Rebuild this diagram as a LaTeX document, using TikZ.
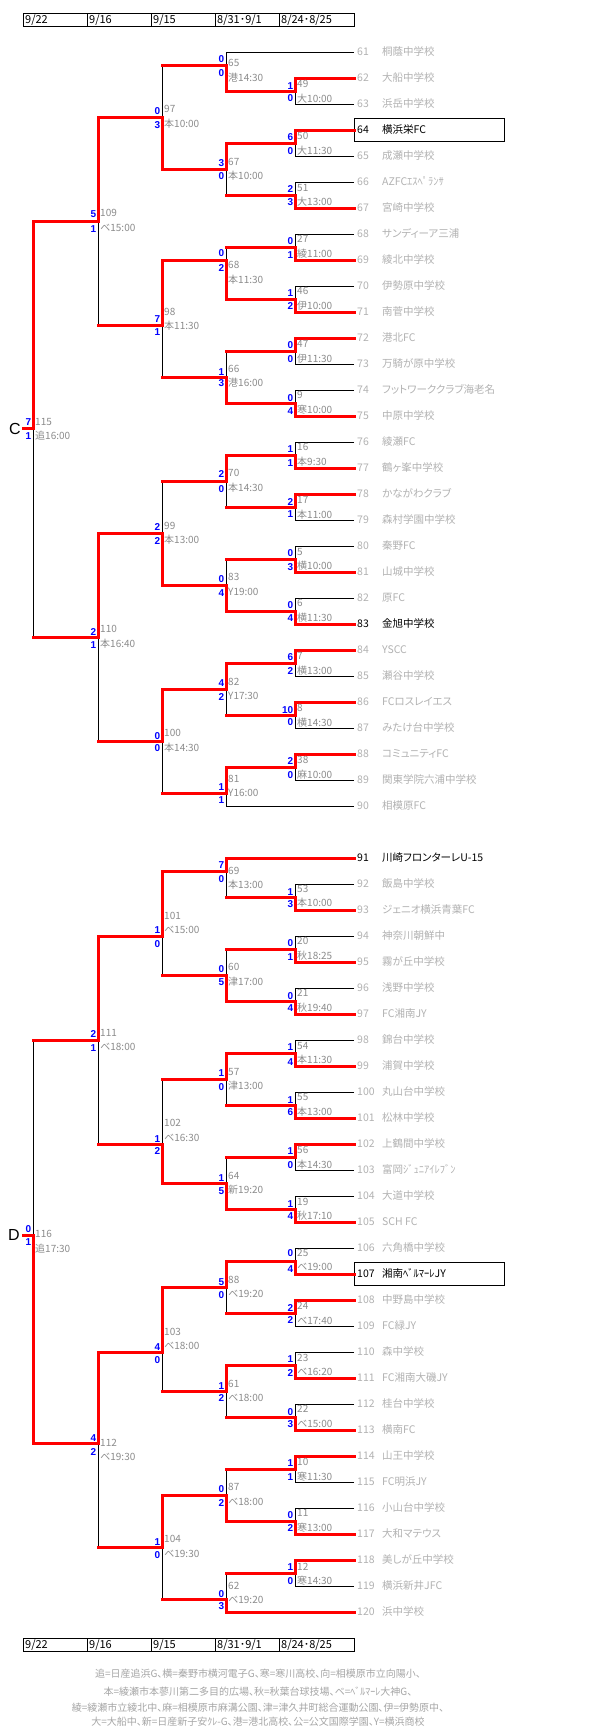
\documentclass[tikz,border=0pt]{standalone}
\usepackage{fontspec}
\setmainfont{Noto Sans CJK JP}[RawFeature={+palt}]
\newfontfamily\scorefont{Liberation Sans}
\newfontfamily\letterfont{Liberation Sans}
\pgfdeclarelayer{bg}
\pgfsetlayers{bg,main}
\definecolor{myred}{HTML}{FF0000}
\definecolor{scoreblue}{HTML}{0000FF}
\definecolor{tg}{HTML}{B2B2B2}
\definecolor{labgray}{HTML}{8C8C8C}
\definecolor{footgray}{HTML}{A6A6A6}
% match, loser is a team
\newcommand\Mt[5]{%
  \coordinate (m#1) at (#2,#3);
  \begin{pgfonlayer}{bg}\draw[loseln] (#5) -- (#5 -| m#1) -- (m#1);\end{pgfonlayer}
  \draw[winln] (#4) -- (#4 -| m#1) -- (m#1);}
% match, loser is a match
\newcommand\Mm[5]{%
  \coordinate (m#1) at (#2,#3);
  \begin{pgfonlayer}{bg}\draw[loseln] (#5 -| m#1) -- (m#1);\end{pgfonlayer}
  \draw[winln] (#5) -- (#5 -| m#1);
  \draw[winln] (#4) -- (#4 -| m#1) -- (m#1);}
% labels
\newcommand\Lb[8]{%
  \node[lab] (n#1) at (m#1 |- 0,#2) {#1};
  \node[lab] (v#1) at (m#1 |- 0,#3) {#4};
  \node[scr] (a#1) at (m#1 |- 0,#5) {#6};
  \node[scr] (b#1) at (m#1 |- 0,#7) {#8};}
\begin{document}
\begin{tikzpicture}[x=1pt,y=-1pt,
  winln/.style={line width=3pt,draw=myred,line cap=rect,line join=miter},
  loseln/.style={line width=1pt,draw=black},
  lab/.style={anchor=base west,inner sep=0pt,xshift=2pt,yshift=-3.6pt,text=labgray,font=\fontsize{10}{10}\selectfont},
  scr/.style={anchor=base east,inner sep=0pt,xshift=-1.5pt,yshift=-3.6pt,text=scoreblue,font=\scorefont\bfseries\fontsize{10}{10}\selectfont},
  tnum/.style={anchor=base west,inner sep=0pt,yshift=-3.8pt,font=\fontsize{10.5}{10.5}\selectfont},
  hdr/.style={anchor=base west,inner sep=0pt,yshift=-3.9pt,font=\fontsize{11}{11}\selectfont},
  foot/.style={anchor=base,inner sep=0pt,yshift=-3.6pt,text=footgray,font=\fontsize{10}{10}\selectfont},
  grp/.style={anchor=center,inner sep=0pt,font=\letterfont\fontsize{16}{16}\selectfont}]
\begin{pgfonlayer}{bg}
\fill[white] (0,0) rectangle (605,1733);
\end{pgfonlayer}
\path[use as bounding box] (0,0) rectangle (605,1733);

% ---------- headers ----------
\draw[line width=1pt] (23,13.3) rectangle (354,26);
\foreach \xx in {87,151,215,279} \draw[line width=1pt] (\xx,13.3) -- (\xx,26);
\node[hdr] (h1) at (25,19.7) {9/22};
\node[hdr] (h2) at (89,19.7) {9/16};
\node[hdr] (h3) at (153,19.7) {9/15};
\node[hdr] (h4) at (217,19.7) {8/31･9/1};
\node[hdr] (h5) at (281,19.7) {8/24･8/25};
\draw[line width=1pt] (23,1638.3) rectangle (354,1651.7);
\foreach \xx in {87,151,215,279} \draw[line width=1pt] (\xx,1638.3) -- (\xx,1651.7);
\node[hdr] (g1) at (25,1645) {9/22};
\node[hdr] (g2) at (89,1645) {9/16};
\node[hdr] (g3) at (153,1645) {9/15};
\node[hdr] (g4) at (217,1645) {8/31･9/1};
\node[hdr] (g5) at (281,1645) {8/24･8/25};

% ---------- teams ----------
\foreach \n/\s/\c in {61/桐蔭中学校/tg, 62/大船中学校/tg, 63/浜岳中学校/tg, 64/横浜栄FC/black,
  65/成瀬中学校/tg, 66/AZFCｴｽﾍﾟﾗﾝｻ/tg, 67/宮崎中学校/tg, 68/サンディーア三浦/tg,
  69/綾北中学校/tg, 70/伊勢原中学校/tg, 71/南菅中学校/tg, 72/港北FC/tg,
  73/万騎が原中学校/tg, 74/フットワーククラブ海老名/tg, 75/中原中学校/tg, 76/綾瀬FC/tg,
  77/鶴ヶ峯中学校/tg, 78/かながわクラブ/tg, 79/森村学園中学校/tg, 80/秦野FC/tg,
  81/山城中学校/tg, 82/原FC/tg, 83/金旭中学校/black, 84/YSCC/tg,
  85/瀬谷中学校/tg, 86/FCロスレイエス/tg, 87/みたけ台中学校/tg, 88/コミュニティFC/tg,
  89/関東学院六浦中学校/tg, 90/相模原FC/tg} {
  \coordinate (t\n) at (354,{52+26*(\n-61)});
  \node[tnum,text=\c] (k\n) at (357,{52+26*(\n-61)}) {\n};
  \node[tnum,text=\c] (s\n) at (382,{52+26*(\n-61)}) {\s};
}
\foreach \n/\s/\c in {91/川崎フロンターレU-15/black, 92/飯島中学校/tg, 93/ジェニオ横浜青葉FC/tg,
  94/神奈川朝鮮中/tg, 95/霧が丘中学校/tg, 96/浅野中学校/tg, 97/FC湘南JY/tg,
  98/錦台中学校/tg, 99/浦賀中学校/tg, 100/丸山台中学校/tg, 101/松林中学校/tg,
  102/上鶴間中学校/tg, 103/富岡ｼﾞｭﾆｱｲﾚﾌﾞﾝ/tg, 104/大道中学校/tg, 105/SCH FC/tg,
  106/六角橋中学校/tg, 107/湘南ﾍﾞﾙﾏｰﾚJY/black, 108/中野島中学校/tg, 109/FC緑JY/tg,
  110/森中学校/tg, 111/FC湘南大磯JY/tg, 112/桂台中学校/tg, 113/横南FC/tg,
  114/山王中学校/tg, 115/FC明浜JY/tg, 116/小山台中学校/tg, 117/大和マテウス/tg,
  118/美しが丘中学校/tg, 119/横浜新井JFC/tg, 120/浜中学校/tg} {
  \coordinate (t\n) at (354,{858+26*(\n-91)});
  \node[tnum,text=\c] (k\n) at (357,{858+26*(\n-91)}) {\n};
  \node[tnum,text=\c] (s\n) at (382,{858+26*(\n-91)}) {\s};
}
\draw[line width=1pt] (354,118.3) rectangle (504,141);
\draw[line width=1pt] (354,1262.7) rectangle (504,1285);

% ---------- block C ----------
\Mt{49}{295}{91}{t62}{t63}
\Mt{50}{295}{143}{t64}{t65}
\Mt{51}{295}{195}{t67}{t66}
\Mt{27}{295}{247}{t69}{t68}
\Mt{46}{295}{299}{t71}{t70}
\Mt{47}{295}{351}{t72}{t73}
\Mt{9}{295}{403}{t75}{t74}
\Mt{16}{295}{455}{t77}{t76}
\Mt{17}{295}{507}{t78}{t79}
\Mt{5}{295}{559}{t81}{t80}
\Mt{6}{295}{611}{t83}{t82}
\Mt{7}{295}{663}{t84}{t85}
\Mt{8}{295}{715}{t86}{t87}
\Mt{38}{295}{767}{t88}{t89}
\Mt{65}{226}{65}{m49}{t61}
\Mm{67}{226}{169}{m50}{m51}
\Mm{68}{226}{260}{m46}{m27}
\Mm{66}{226}{377}{m9}{m47}
\Mm{70}{226}{481}{m16}{m17}
\Mm{83}{226}{585}{m6}{m5}
\Mm{82}{226}{689}{m7}{m8}
\Mt{81}{226}{793}{m38}{t90}
\Mm{97}{162}{117}{m67}{m65}
\Mm{98}{162}{325}{m68}{m66}
\Mm{99}{162}{533}{m83}{m70}
\Mm{100}{162}{741}{m82}{m81}
\Mm{109}{98}{221}{m97}{m98}
\Mm{110}{98}{637}{m99}{m100}
\Mm{115}{33}{428}{m109}{m110}
\coordinate (cC) at (23,428);
\draw[winln] (m115) -- (cC);
\node[grp] (lC) at (15,429) {C};

% ---------- block D ----------
\Mt{53}{295}{897}{t93}{t92}
\Mt{20}{295}{949}{t95}{t94}
\Mt{21}{295}{1001}{t97}{t96}
\Mt{54}{295}{1053}{t99}{t98}
\Mt{55}{295}{1105}{t101}{t100}
\Mt{56}{295}{1157}{t102}{t103}
\Mt{19}{295}{1209}{t105}{t104}
\Mt{25}{295}{1261}{t107}{t106}
\Mt{24}{295}{1313}{t108}{t109}
\Mt{23}{295}{1365}{t111}{t110}
\Mt{22}{295}{1417}{t113}{t112}
\Mt{10}{295}{1469}{t114}{t115}
\Mt{11}{295}{1521}{t117}{t116}
\Mt{12}{295}{1573}{t118}{t119}
\Mm{69}{226}{871}{t91}{m53}
\Mm{60}{226}{975}{m21}{m20}
\Mm{57}{226}{1079}{m54}{m55}
\Mm{64}{226}{1183}{m19}{m56}
\Mm{88}{226}{1287}{m25}{m24}
\Mm{61}{226}{1391}{m23}{m22}
\Mm{87}{226}{1495}{m11}{m10}
\Mm{62}{226}{1599}{t120}{m12}
\Mm{101}{162}{936}{m69}{m60}
\Mm{102}{162}{1144}{m64}{m57}
\Mm{103}{162}{1352}{m88}{m61}
\Mm{104}{162}{1547}{m87}{m62}
\Mm{111}{98}{1040}{m101}{m102}
\Mm{112}{98}{1443}{m103}{m104}
\Mm{116}{33}{1235}{m112}{m111}
\coordinate (cD) at (23,1235);
\draw[winln] (m116) -- (cD);
\node[grp] (lD) at (14,1235) {D};

% ---------- labels C ----------
\Lb{49}{84.3}{99}{大10:00}{86}{1}{98.3}{0}
\Lb{50}{136}{151}{大11:30}{136.7}{6}{151}{0}
\Lb{51}{187.7}{202}{大13:00}{189}{2}{201.7}{3}
\Lb{27}{239.3}{254.3}{綾11:00}{241}{0}{255}{1}
\Lb{46}{291}{306}{伊10:00}{293}{1}{306}{2}
\Lb{47}{344}{359}{伊11:30}{345}{0}{359}{0}
\Lb{9}{395}{410}{寒10:00}{398}{0}{411}{4}
\Lb{16}{446.7}{461.7}{本9:30}{449}{1}{462.7}{1}
\Lb{17}{500}{515}{本11:00}{501.7}{2}{514}{1}
\Lb{5}{551.7}{565.7}{横10:00}{552.7}{0}{566.7}{3}
\Lb{6}{603}{618}{横11:30}{605}{0}{618}{4}
\Lb{7}{656}{670.7}{横13:00}{657}{6}{671}{2}
\Lb{8}{708}{722.7}{横14:30}{710}{10}{721.7}{0}
\Lb{38}{760}{775}{麻10:00}{761}{2}{775}{0}
\Lb{65}{63.3}{77.7}{港14:30}{59.3}{0}{72.7}{0}
\Lb{67}{161.7}{175.7}{本10:00}{163.3}{3}{175.7}{0}
\Lb{68}{265}{280}{本11:30}{253.3}{0}{267.7}{2}
\Lb{66}{369.3}{383.3}{港16:00}{372}{1}{383.3}{3}
\Lb{70}{473}{488}{本14:30}{474}{2}{489}{0}
\Lb{83}{577}{592}{Y19:00}{579}{0}{593}{4}
\Lb{82}{682}{696}{Y17:30}{683}{4}{697}{2}
\Lb{81}{779}{793}{Y16:00}{787}{1}{800}{1}
\Lb{97}{109.3}{124}{本10:00}{111}{0}{125}{3}
\Lb{98}{311.7}{326}{本11:30}{319.3}{7}{332.3}{1}
\Lb{99}{526}{540}{本13:00}{527}{2}{541}{2}
\Lb{100}{733}{748}{本14:30}{736}{0}{748}{0}
\Lb{109}{213}{228}{ベ15:00}{214}{5}{229}{1}
\Lb{110}{629}{644}{本16:40}{632}{2}{645}{1}
\Lb{115}{422}{436}{追16:00}{422}{7}{436}{1}

% ---------- labels D ----------
\Lb{53}{889.3}{903.3}{本10:00}{892.3}{1}{904}{3}
\Lb{20}{941}{955.7}{秋18:25}{943.3}{0}{956.7}{1}
\Lb{21}{993.3}{1008.3}{秋19:40}{995.7}{0}{1008.3}{4}
\Lb{54}{1045.7}{1060}{本11:30}{1047}{1}{1061.7}{4}
\Lb{55}{1097}{1112}{本13:00}{1100}{1}{1112}{6}
\Lb{56}{1150}{1165}{本14:30}{1151}{1}{1165}{0}
\Lb{19}{1201.7}{1215.7}{秋17:10}{1204}{1}{1216}{4}
\Lb{25}{1253}{1267.3}{ベ19:00}{1253}{0}{1269}{4}
\Lb{24}{1306}{1321}{ベ17:40}{1307.7}{2}{1320}{2}
\Lb{23}{1357.7}{1372.3}{ベ16:20}{1359}{1}{1372.7}{2}
\Lb{22}{1409.3}{1424}{ベ15:00}{1411.7}{0}{1424}{3}
\Lb{10}{1462.3}{1476.7}{寒11:30}{1463.3}{1}{1476.7}{1}
\Lb{11}{1513.3}{1527.7}{寒13:00}{1515}{0}{1528.3}{2}
\Lb{12}{1566.7}{1580.7}{寒14:30}{1567.3}{1}{1580.7}{0}
\Lb{69}{870.7}{885}{本13:00}{865}{7}{879.3}{0}
\Lb{60}{967.3}{982.3}{津17:00}{969.3}{0}{982.3}{5}
\Lb{57}{1071.7}{1086}{津13:00}{1073.3}{1}{1086.7}{0}
\Lb{64}{1175.7}{1190}{新19:20}{1177.7}{1}{1190.7}{5}
\Lb{88}{1280}{1294.3}{ベ19:20}{1281.7}{5}{1295}{0}
\Lb{61}{1384}{1397.7}{ベ18:00}{1386}{1}{1397.7}{2}
\Lb{87}{1487.3}{1502.3}{ベ18:00}{1489}{0}{1503.3}{2}
\Lb{62}{1585.7}{1600}{ベ19:20}{1594}{0}{1606}{3}
\Lb{101}{916}{930}{ベ15:00}{930}{1}{944.3}{0}
\Lb{102}{1123.3}{1138.3}{ベ16:30}{1139.3}{1}{1151}{2}
\Lb{103}{1331.7}{1346}{ベ18:00}{1346.7}{4}{1360}{0}
\Lb{104}{1539.3}{1554}{ベ19:30}{1541.7}{1}{1555}{0}
\Lb{111}{1032.7}{1047.3}{ベ18:00}{1034}{2}{1048.3}{1}
\Lb{112}{1442.7}{1457.3}{ベ19:30}{1438.3}{4}{1451.7}{2}
\Lb{116}{1234.3}{1249}{追17:30}{1229}{0}{1242.3}{1}

% ---------- footer ----------
\node[foot] (f1) at (258,1674.3) {追=日産追浜G、横=秦野市横河電子G、寒=寒川高校、向=相模原市立向陽小、};
\node[foot] (f2) at (258,1691.7) {本=綾瀬市本蓼川第二多目的広場、秋=秋葉台球技場、ベ=ﾍﾞﾙﾏｰﾚ大神G、};
\node[foot] (f3) at (258,1708.3) {綾=綾瀬市立綾北中、麻=相模原市麻溝公園、津=津久井町総合運動公園、伊=伊勢原中、};
\node[foot] (f4) at (258,1721.7) {大=大船中、新=日産新子安ｸﾚ-G、港=港北高校、公=公文国際学園、Y=横浜商校};
\end{tikzpicture}
\end{document}
